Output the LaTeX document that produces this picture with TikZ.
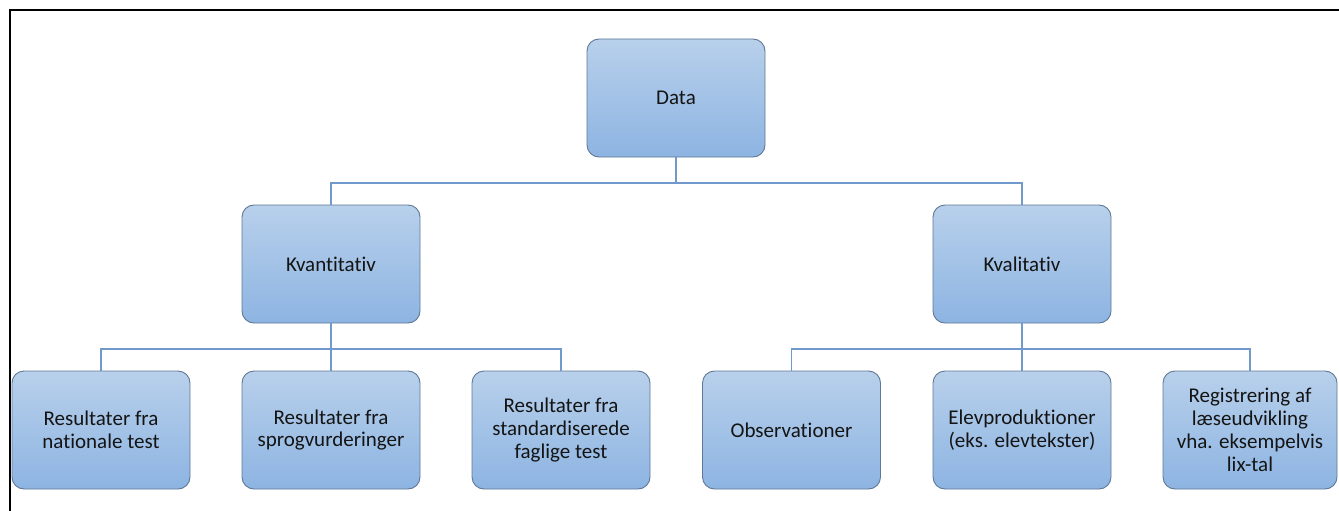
\documentclass[tikz,border=0pt]{standalone}
\usepackage{fontspec}
\setmainfont[Ligatures=NoCommon]{Carlito}
\definecolor{boxtop}{HTML}{B8D0EB}
\definecolor{boxbot}{HTML}{8DB4E2}
\definecolor{boxline}{HTML}{5F7895}
\definecolor{conncol}{HTML}{6F9ACB}
\definecolor{txt}{HTML}{141414}
\tikzset{
  orgbox/.style={draw=boxline, line width=0.9pt, rounded corners=12pt,
    top color=boxtop, bottom color=boxbot, minimum width=178pt,
    minimum height=118pt, align=center, inner sep=2pt, text=txt,
    font=\fontsize{21}{22.8}\selectfont},
  conn/.style={draw=conncol, line width=1.3pt},
  frame/.style={draw=black, line width=1.4pt}
}
\begin{document}
\begin{tikzpicture}[x=1pt,y=-1pt]
\useasboundingbox (0,0) rectangle (1339,511);
\draw[frame] (10,511) -- (10,10) -- (1339,10);
\node[orgbox] (data) at (676,98) {Data};
\node[orgbox] (kvant) at (331,264) {Kvantitativ};
\node[orgbox] (kval) at (1022,264) {Kvalitativ};
\node[orgbox] (b1) at (101,430) {Resultater fra\\nationale test};
\node[orgbox] (b2) at (331,430) {Resultater fra\\sprogvurderinger};
\node[orgbox] (b3) at (561,430) {Resultater fra\\standardiserede\\faglige test};
\node[orgbox] (b4) at (791.5,430) {Observationer};
\node[orgbox] (b5) at (1022,430) {Elevproduktioner\\(eks. elevtekster)};
\node[orgbox, minimum width=174pt] (b6) at (1250,430) {Registrering af\\læseudvikling\\vha. eksempelvis\\lix-tal};
\coordinate (bus1) at (676,183);
\coordinate (bus2) at (331,349);
\coordinate (bus3) at (1022,349);
\draw[conn] (data.south) -- (bus1);
\draw[conn] (kvant.north) |- (bus1) -| (kval.north);
\draw[conn] (kvant.south) -- (b2.north);
\draw[conn] (b1.north) |- (bus2) -| (b3.north);
\draw[conn] (kval.south) -- (b5.north);
\draw[conn] (b4.north) |- (bus3) -| (b6.north);
\end{tikzpicture}
\end{document}
